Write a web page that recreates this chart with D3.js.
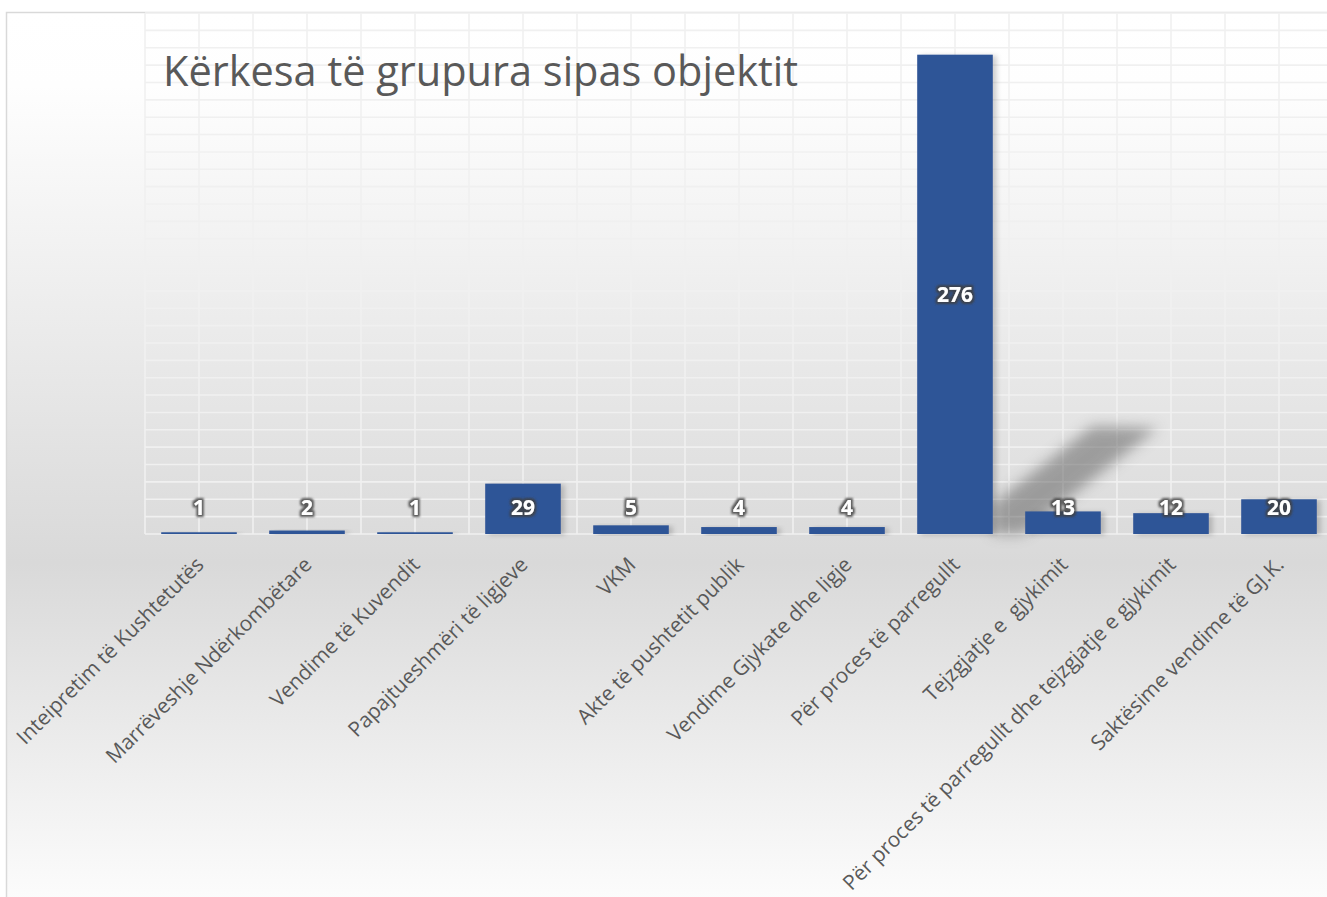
<!DOCTYPE html>
<html>
<head>
<meta charset="utf-8">
<script src="https://cdn.jsdelivr.net/npm/d3@7"></script>
<style>
  body { margin: 0; background: #fff; }
  svg { display: block; font-family: "Open Sans", "Noto Sans", sans-serif; }
  .cat { white-space: pre; }
</style>
</head>
<body>
<div id="chart"></div>
<script>
const categories = [
    "Inteipretim të Kushtetutës",
    "Marrëveshje Ndërkombëtare",
    "Vendime të Kuvendit",
    "Papajtueshmëri të ligjeve",
    "VKM",
    "Akte të pushtetit publik",
    "Vendime Gjykate dhe ligje",
    "Për proces të parregullt",
    "Tejzgjatje e  gjykimit",
    "Për proces të parregullt dhe tejzgjatje e gjykimit",
    "Saktësime vendime të GJ.K."
];
const values = [1, 2, 1, 29, 5, 4, 4, 276, 13, 12, 20];
const yTicks = d3.range(0, 301, 10);
const title = "Kërkesa të grupura sipas objektit";

const width = 1327, height = 897;
const plot = {left: 145, top: 13, bottom: 534};

const svg = d3.select("#chart").append("svg")
    .attr("width", width)
    .attr("height", height);

const defs = svg.append("defs");

// chart area background: white -> grey -> white
const grad = defs.append("linearGradient")
    .attr("id", "bg")
    .attr("x1", 0).attr("y1", 0).attr("x2", 0).attr("y2", 1);
grad.append("stop").attr("offset", "0%").attr("stop-color", "#ffffff");
grad.append("stop").attr("offset", "8%").attr("stop-color", "#fefefe");
grad.append("stop").attr("offset", "60%").attr("stop-color", "#d9d9d9");
grad.append("stop").attr("offset", "100%").attr("stop-color", "#ffffff");

const glow = defs.append("filter").attr("id", "glow")
    .attr("x", "-30%").attr("y", "-30%").attr("width", "160%").attr("height", "160%");
glow.append("feMorphology").attr("in", "SourceAlpha").attr("operator", "dilate").attr("radius", 1.6).attr("result", "d");
glow.append("feGaussianBlur").attr("in", "d").attr("stdDeviation", 1.1).attr("result", "b");
glow.append("feFlood").attr("flood-color", "#3f3f3f").attr("flood-opacity", 0.85);
glow.append("feComposite").attr("in2", "b").attr("operator", "in").attr("result", "s");
const gm = glow.append("feMerge");
gm.append("feMergeNode").attr("in", "s");
gm.append("feMergeNode").attr("in", "SourceGraphic");

const barShadow = defs.append("filter").attr("id", "barShadow")
    .attr("x", "-20%").attr("y", "-20%").attr("width", "150%").attr("height", "140%");
barShadow.append("feDropShadow")
    .attr("dx", 4).attr("dy", 1).attr("stdDeviation", 2.5)
    .attr("flood-color", "#000").attr("flood-opacity", 0.18);

const blur = defs.append("filter").attr("id", "blur")
    .attr("x", "-30%").attr("y", "-30%").attr("width", "160%").attr("height", "160%");
blur.append("feGaussianBlur").attr("stdDeviation", 7);

svg.append("rect")
    .attr("x", 6.5).attr("y", 12.5)
    .attr("width", width + 20).attr("height", height + 20)
    .attr("fill", "url(#bg)")
    .attr("stroke", "#d9d9d9")
    .attr("stroke-width", 1.5);

const x = d3.scaleBand()
    .domain(categories)
    .range([plot.left, plot.left + 108 * categories.length])
    .paddingInner(0.3)
    .paddingOuter(0.15);

const y = d3.scaleLinear()
    .domain([0, 300])
    .range([plot.bottom, plot.top]);

// gridlines
const grid = svg.append("g").attr("stroke", "#f0f0f0").attr("stroke-width", 1.6);
grid.selectAll(".hg")
    .data(yTicks)
    .enter()
    .append("line")
    .attr("x1", plot.left)
    .attr("x2", x.range()[1])
    .attr("y1", d => y(d))
    .attr("y2", d => y(d));

const vGrid = d3.range(0, categories.length * 2 + 1).map(k => x.range()[0] + k * x.step() / 2);
grid.selectAll(".vg")
    .data(vGrid)
    .enter()
    .append("line")
    .attr("x1", d => d)
    .attr("x2", d => d)
    .attr("y1", plot.top)
    .attr("y2", plot.bottom);

// perspective shadow cast by the tallest bar
const maxIdx = values.indexOf(d3.max(values));
const bx = x(categories[maxIdx]) + x.bandwidth();
const by = y(0);
svg.append("path")
    .attr("d", `M${bx},${by} L${bx},${by - 30} L${bx + 100},${by - 108} L${bx + 165},${by - 106} L${bx + 30},${by} Z`)
    .attr("fill", "#5a5a5a")
    .attr("opacity", 0.5)
    .attr("filter", "url(#blur)");

// bars
svg.selectAll(".bar")
    .data(values)
    .enter()
    .append("rect")
    .attr("class", "bar")
    .attr("x", (d, i) => x(categories[i]))
    .attr("y", d => y(d))
    .attr("width", x.bandwidth())
    .attr("height", d => y(0) - y(d))
    .attr("fill", "#2f5597")
    .attr("filter", "url(#barShadow)");

// data labels
svg.selectAll(".val")
    .data(values)
    .enter()
    .append("text")
    .attr("class", "val")
    .attr("x", (d, i) => x(categories[i]) + x.bandwidth() / 2)
    .attr("y", d => Math.min((y(d) + y(0)) / 2, y(0) - 27))
    .attr("dy", "0.36em")
    .attr("text-anchor", "middle")
    .attr("font-size", 21)
    .attr("font-weight", "bold")
    .attr("fill", "#ffffff")
    .attr("filter", "url(#glow)")
    .text(d => d);

// category labels
svg.selectAll(".cat")
    .data(categories)
    .enter()
    .append("text")
    .attr("class", "cat")
    .attr("transform", d => `translate(${x(d) + x.bandwidth() / 2 + 6},${plot.bottom + 32}) rotate(-45)`)
    .attr("text-anchor", "end")
    .attr("font-size", 20.8)
    .attr("fill", "#595959")
    .text(d => d);

// title
svg.append("text")
    .attr("x", 163)
    .attr("y", 86)
    .attr("font-size", 41.5)
    .attr("fill", "#595959")
    .text(title);
</script>
</body>
</html>
